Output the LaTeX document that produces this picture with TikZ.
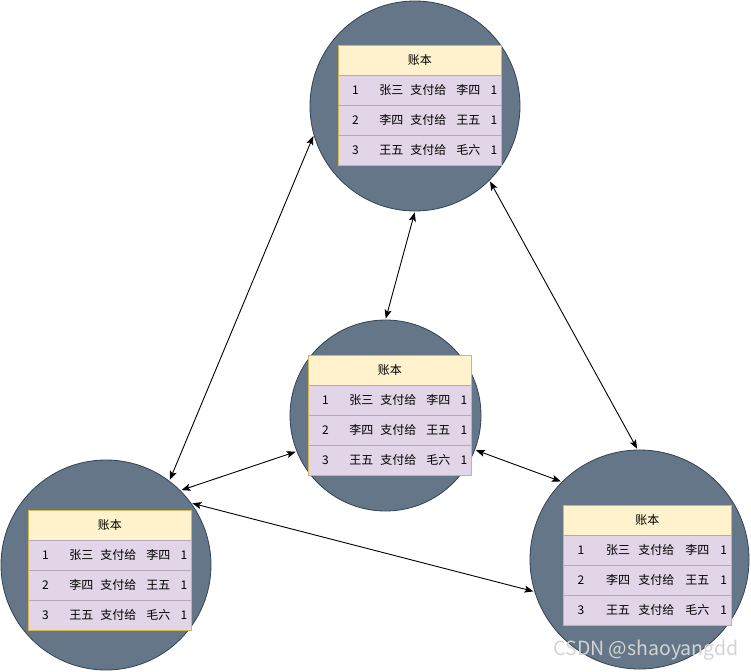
\documentclass[tikz,border=0pt]{standalone}
\usepackage{fontspec}
\newfontfamily\cjk{Noto Sans CJK SC}
\usetikzlibrary{arrows.meta}
\definecolor{circfill}{HTML}{647687}
\definecolor{circline}{HTML}{314354}
\definecolor{headfill}{HTML}{FFF2CC}
\definecolor{headline}{HTML}{D6B656}
\definecolor{rowfill}{HTML}{E1D5E7}
\definecolor{rowline}{HTML}{B4A9BB}
\definecolor{wmark}{HTML}{D4D4D4}
\newcommand\ledgertable[4]{% name, left, top, width
  \node[headbox, minimum width=#4pt, anchor=north west] (#1-h) at (#2,#3) {账本};
  \foreach \i/\p/\q/\r in {1/张三/李四/1,2/李四/王五/1,3/王五/毛六/1}{
    \node[rowbox, minimum width=#4pt, anchor=north west] (#1-r\i) at (#2,{#3+30*\i}) {};
    \node[celltext] (#1-n\i) at ({#2+0.107*#4},{#3+30*\i+15}) {\i};
    \node[celltext] (#1-a\i) at ({#2+0.328*#4},{#3+30*\i+15}) {\p};
    \node[celltext] (#1-v\i) at ({#2+0.555*#4},{#3+30*\i+15}) {支付给};
    \node[celltext] (#1-b\i) at ({#2+0.800*#4},{#3+30*\i+15}) {\q};
    \node[celltext] (#1-m\i) at ({#2+0.957*#4},{#3+30*\i+15}) {\r};
  }
  \draw[headline, line width=0.8pt] (#1-h.north west) rectangle (#1-r3.south east);
}
\begin{document}
\begin{tikzpicture}[x=1pt, y=-1pt,
  circ/.style={circle, fill=circfill, draw=circline, line width=0.8pt, inner sep=0pt},
  headbox/.style={rectangle, fill=headfill, draw=headline, line width=0.8pt, minimum height=30pt, inner sep=0pt, font=\cjk\fontsize{12}{14}\selectfont},
  rowbox/.style={rectangle, fill=rowfill, draw=rowline, line width=0.8pt, minimum height=30pt, inner sep=0pt},
  celltext/.style={inner sep=0pt, font=\cjk\fontsize{12}{14}\selectfont},
  link/.style={{Stealth[length=9pt,width=7pt,inset=2pt]}-{Stealth[length=9pt,width=7pt,inset=2pt]}, line width=0.9pt, black, shorten <=1pt, shorten >=1pt}]
\useasboundingbox (0,0) rectangle (751,671);
\fill[white] (0,0) rectangle (751,671);
\node[circ, minimum size=210pt] (top) at (415,106) {};
\node[circ, minimum size=191pt] (mid) at (385.5,415.5) {};
\node[circ, minimum size=210pt] (bl) at (106,565) {};
\node[circ, minimum size=219pt] (br) at (639.5,559.5) {};
\ledgertable{t}{338}{45}{163}
\ledgertable{m}{308}{355}{163}
\ledgertable{l}{28}{510}{163}
\ledgertable{r}{563}{505}{168}
\draw[link] (top.196) -- (bl.53);
\draw[link] (top.270) -- (mid.90);
\draw[link] (top.315) -- (br.91);
\draw[link] (mid.202) -- (bl.45);
\draw[link] (mid.339) -- (br.135);
\draw[link] (bl.36) -- (br.197);
\node[text=wmark, inner sep=0pt, font=\cjk\fontsize{19.5}{22}\selectfont] (wm) at (646,650) {CSDN @shaoyangdd};
\end{tikzpicture}
\end{document}
